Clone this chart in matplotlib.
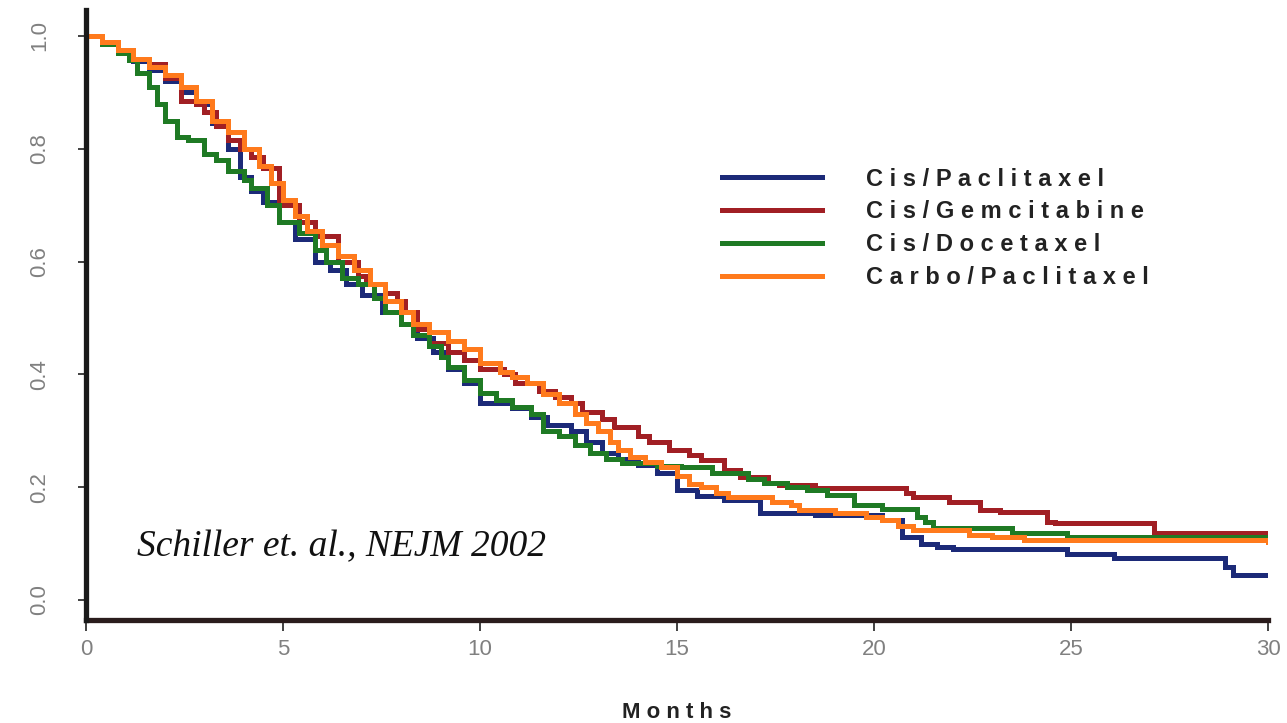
import matplotlib
matplotlib.use("Agg")
import matplotlib.pyplot as plt

# ---------------- data ----------------
series_names = ["Cis/Paclitaxel", "Cis/Gemcitabine", "Cis/Docetaxel", "Carbo/Paclitaxel"]

cis_pac_t = [0, 0.4, 0.8, 1.2, 1.6, 2.0, 2.4, 2.8, 3.2, 3.6, 3.9, 4.2, 4.5, 4.9, 5.3, 5.8,
             6.2, 6.6, 7.0, 7.5, 8.0, 8.4, 8.8, 9.2, 9.6, 10.0, 10.8, 11.3, 11.7, 12.3, 12.7,
             13.1, 13.5, 14.0, 14.5, 15.0, 15.5, 16.2, 17.1, 18.5, 20.2, 20.7, 21.2, 21.6,
             22.0, 24.9, 26.1, 28.9, 29.1, 30]
cis_pac_s = [1.0, 0.985, 0.97, 0.955, 0.94, 0.92, 0.9, 0.88, 0.845, 0.80, 0.75, 0.725, 0.705,
             0.67, 0.64, 0.60, 0.585, 0.56, 0.54, 0.51, 0.49, 0.465, 0.44, 0.41, 0.385, 0.35,
             0.34, 0.325, 0.31, 0.30, 0.28, 0.26, 0.25, 0.24, 0.225, 0.195, 0.185, 0.177,
             0.155, 0.15, 0.142, 0.112, 0.10, 0.094, 0.09, 0.082, 0.074, 0.059, 0.045, 0.045]

cis_gem_t = [0, 0.4, 0.8, 1.2, 1.6, 2.0, 2.4, 2.8, 3.0, 3.3, 3.6, 3.9, 4.2, 4.5, 4.9, 5.4,
             5.8, 6.4, 6.9, 7.1, 7.6, 7.9, 8.1, 8.4, 8.7, 9.2, 9.6, 10.0, 10.6, 10.9, 11.5,
             11.9, 12.3, 12.6, 13.1, 13.4, 14.0, 14.3, 14.8, 15.3, 15.6, 16.2, 16.6, 17.3,
             17.6, 18.5, 20.8, 21.0, 21.9, 22.7, 23.2, 24.4, 24.6, 27.1, 30]
cis_gem_s = [1.0, 0.985, 0.975, 0.96, 0.95, 0.925, 0.885, 0.88, 0.865, 0.84, 0.815, 0.80,
             0.785, 0.765, 0.70, 0.67, 0.645, 0.60, 0.575, 0.56, 0.545, 0.53, 0.51, 0.48,
             0.455, 0.44, 0.425, 0.41, 0.40, 0.385, 0.37, 0.36, 0.35, 0.333, 0.32, 0.307,
             0.29, 0.28, 0.266, 0.257, 0.248, 0.23, 0.218, 0.207, 0.204, 0.199, 0.19, 0.183,
             0.174, 0.16, 0.156, 0.138, 0.136, 0.118, 0.118]

cis_doc_t = [0, 0.4, 0.8, 1.1, 1.3, 1.6, 1.8, 2.0, 2.3, 2.6, 3.0, 3.3, 3.6, 4.0, 4.2, 4.6,
             4.9, 5.4, 5.8, 6.1, 6.5, 6.9, 7.3, 7.6, 8.0, 8.3, 8.7, 9.0, 9.2, 9.6, 10.0,
             10.4, 10.8, 11.3, 11.6, 12.0, 12.4, 12.8, 13.2, 13.6, 14.5, 15.1, 15.9, 16.8,
             17.2, 17.8, 18.3, 18.8, 19.5, 20.2, 21.1, 21.3, 21.5, 23.5, 24.9, 30]
cis_doc_s = [1.0, 0.985, 0.97, 0.957, 0.934, 0.91, 0.88, 0.85, 0.82, 0.815, 0.79, 0.78,
             0.76, 0.745, 0.73, 0.70, 0.67, 0.65, 0.62, 0.60, 0.57, 0.56, 0.535, 0.51, 0.49,
             0.47, 0.45, 0.43, 0.413, 0.39, 0.367, 0.355, 0.342, 0.33, 0.30, 0.29, 0.275,
             0.26, 0.25, 0.243, 0.238, 0.235, 0.225, 0.215, 0.207, 0.20, 0.195, 0.186,
             0.168, 0.162, 0.148, 0.138, 0.128, 0.118, 0.111, 0.111]

carbo_pac_t = [0, 0.4, 0.8, 1.2, 1.6, 2.0, 2.4, 2.8, 3.2, 3.6, 4.0, 4.4, 4.7, 5.0, 5.3, 5.6,
               6.0, 6.4, 6.8, 7.2, 7.6, 8.0, 8.3, 8.7, 9.2, 9.6, 10.0, 10.5, 10.8, 11.2,
               11.6, 12.0, 12.4, 12.7, 13.0, 13.3, 13.5, 13.8, 14.2, 14.6, 15.0, 15.3, 15.6,
               16.0, 16.3, 17.4, 17.9, 18.1, 19.0, 19.8, 20.2, 20.6, 21.0, 22.4, 23.0, 23.8, 30]
carbo_pac_s = [1.0, 0.99, 0.975, 0.96, 0.945, 0.93, 0.91, 0.885, 0.85, 0.83, 0.80, 0.77,
               0.74, 0.71, 0.68, 0.655, 0.63, 0.61, 0.585, 0.56, 0.53, 0.51, 0.49, 0.475,
               0.46, 0.445, 0.42, 0.405, 0.396, 0.385, 0.365, 0.35, 0.33, 0.314, 0.30, 0.28,
               0.266, 0.254, 0.245, 0.235, 0.22, 0.205, 0.20, 0.19, 0.183, 0.174, 0.168,
               0.16, 0.155, 0.147, 0.142, 0.132, 0.124, 0.115, 0.111, 0.106, 0.103]

x_ticks = [0, 5, 10, 15, 20, 25, 30]
x_tick_labels = ["0", "5", "10", "15", "20", "25", "30"]
y_ticks = [0.0, 0.2, 0.4, 0.6, 0.8, 1.0]
y_tick_labels = ["0.0", "0.2", "0.4", "0.6", "0.8", "1.0"]

x_label = "Months"
citation = "Schiller et. al., NEJM 2002"

colors = {"Cis/Paclitaxel": "#1c2a78", "Cis/Gemcitabine": "#a11f24",
          "Cis/Docetaxel": "#1f7a24", "Carbo/Paclitaxel": "#ff7a1c"}

# ---------------- figure ----------------
W, H = 1287, 723
fig = plt.figure(figsize=(W / 100, H / 100), dpi=100)
ax = fig.add_axes([86 / W, 1 - 620 / H, (1268 - 86) / W, (620 - 10) / H])

data = {
    "Cis/Paclitaxel": (cis_pac_t, cis_pac_s),
    "Cis/Gemcitabine": (cis_gem_t, cis_gem_s),
    "Cis/Docetaxel": (cis_doc_t, cis_doc_s),
    "Carbo/Paclitaxel": (carbo_pac_t, carbo_pac_s),
}

handles = {}
draw_order = ["Cis/Paclitaxel", "Cis/Gemcitabine", "Cis/Docetaxel", "Carbo/Paclitaxel"]
for name in draw_order:
    t, s = data[name]
    (ln,) = ax.step(t, s, where="post", color=colors[name], lw=3.6,
                    solid_joinstyle="miter", zorder=3)
    handles[name] = ln

ax.set_xlim(0, 30)
ax.set_ylim(-0.0355, 1.046)

for side in ("top", "right"):
    ax.spines[side].set_visible(False)
ax.spines["left"].set_linewidth(3.8)
ax.spines["left"].set_color("#1a1a1a")
ax.spines["bottom"].set_linewidth(3.8)
ax.spines["bottom"].set_color("#2a1c1c")
ax.spines["left"].set_zorder(5)

ax.set_xticks(x_ticks)
ax.set_xticklabels(x_tick_labels)
ax.set_yticks(y_ticks)
ax.set_yticklabels(y_tick_labels)

ax.tick_params(axis="x", length=8, width=1.3, color="#333333", labelsize=16,
               labelcolor="#808080", pad=6)
ax.tick_params(axis="y", length=6, width=1.3, color="#333333", labelsize=16,
               labelcolor="#808080", pad=20, labelrotation=90)
for lab in ax.get_yticklabels():
    lab.set_va("center")
for lab in ax.get_xticklabels() + ax.get_yticklabels():
    lab.set_fontfamily("Liberation Sans")

ax.set_xlabel(" ".join(x_label), fontfamily="Liberation Sans", fontweight="bold",
              fontsize=16, color="#222222", labelpad=30)

ax.text(1.29, 0.078, citation, fontfamily="Liberation Serif", style="italic",
        fontsize=27, color="#111111", va="baseline", ha="left")

leg = fig.legend([handles[n] for n in series_names], [" ".join(n) for n in series_names],
                 loc="upper left", bbox_to_anchor=(722 / W, 1 - 167.5 / H),
                 bbox_transform=fig.transFigure, frameon=False, borderpad=0,
                 borderaxespad=0, handlelength=4.24, handletextpad=1.86,
                 labelspacing=0.42, prop={"family": "Liberation Sans", "weight": "bold",
                                          "size": 17})
for txt in leg.get_texts():
    txt.set_color("#222222")

fig.savefig("out.png", dpi=100, facecolor="white")
